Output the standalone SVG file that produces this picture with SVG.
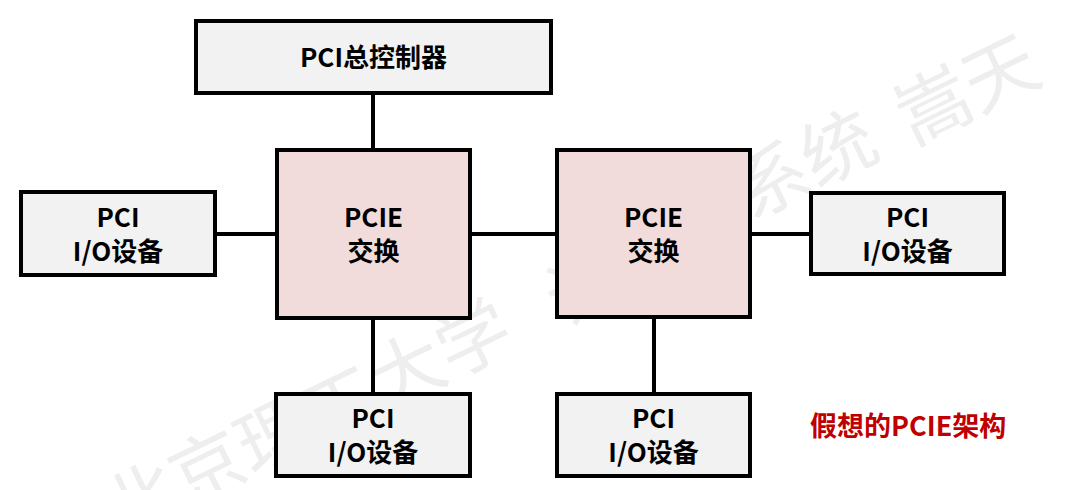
<svg xmlns="http://www.w3.org/2000/svg" width="1071" height="490" viewBox="0 0 1071 490">
<style>
.wm{font-family:"Noto Sans CJK SC","Noto Sans",sans-serif;font-size:74px;fill:#eeeeee;text-anchor:middle}
.gray{fill:#f2f2f2;stroke:#000;stroke-width:4}
.pink{fill:#f2dcdb;stroke:#000;stroke-width:4}
.lbl{font-family:"Noto Sans CJK SC","Noto Sans",sans-serif;font-weight:700;font-size:26px;fill:#000;text-anchor:middle}
.conn line{stroke:#000;stroke-width:4}
.note{font-family:"Noto Sans CJK SC","Noto Sans",sans-serif;font-weight:700;font-size:27px;fill:#c00000}
</style>
<rect width="1071" height="490" fill="#fff"/>
<g id="watermark">
<text class="wm" transform="translate(307,419) rotate(-26)" y="27">北京理工大学</text>
<text class="wm" transform="translate(584,288) rotate(-26)" y="27">计</text>
<text class="wm" transform="translate(805,164) rotate(-26)" y="27">系统</text>
<text class="wm" transform="translate(967,89) rotate(-26)" y="27">嵩天</text>
</g>
<g id="connectors" class="conn">
<line x1="373" y1="95" x2="373" y2="148"/>
<line x1="217" y1="234" x2="275" y2="234"/>
<line x1="472" y1="234" x2="555" y2="234"/>
<line x1="752" y1="234" x2="809" y2="234"/>
<line x1="373" y1="320" x2="373" y2="392"/>
<line x1="654" y1="319" x2="654" y2="392"/>
</g>
<g id="pci-host">
<rect class="gray" x="196" y="21" width="355" height="72"/>
<text class="lbl" x="373.5" y="67">PCI总控制器</text>
</g>
<g id="pcie-switch-1">
<rect class="pink" x="277" y="150" width="193" height="168"/>
<text class="lbl" x="373.5" y="227">PCIE</text>
<text class="lbl" x="373.5" y="261">交换</text>
</g>
<g id="pcie-switch-2">
<rect class="pink" x="557" y="150" width="193" height="167"/>
<text class="lbl" x="653.5" y="227">PCIE</text>
<text class="lbl" x="653.5" y="261">交换</text>
</g>
<g id="pci-io-left">
<rect class="gray" x="21" y="192" width="194" height="83"/>
<text class="lbl" x="118" y="227">PCI</text>
<text class="lbl" x="118" y="261">I/O设备</text>
</g>
<g id="pci-io-right">
<rect class="gray" x="811" y="193" width="193" height="81"/>
<text class="lbl" x="907.5" y="227">PCI</text>
<text class="lbl" x="907.5" y="261">I/O设备</text>
</g>
<g id="pci-io-bottom-1">
<rect class="gray" x="276" y="394" width="194" height="82"/>
<text class="lbl" x="373" y="428">PCI</text>
<text class="lbl" x="373" y="462">I/O设备</text>
</g>
<g id="pci-io-bottom-2">
<rect class="gray" x="557" y="394" width="193" height="82"/>
<text class="lbl" x="653.5" y="428">PCI</text>
<text class="lbl" x="653.5" y="462">I/O设备</text>
</g>
<text class="note" x="810" y="436">假想的PCIE架构</text>
</svg>
